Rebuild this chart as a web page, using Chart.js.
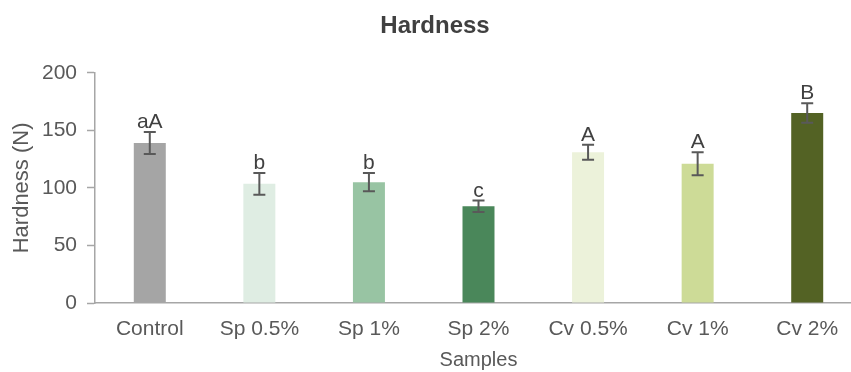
<!DOCTYPE html>
<html>
<head>
<meta charset="utf-8">
<script src="https://cdn.jsdelivr.net/npm/chart.js@4"></script>
<style>
  html, body { margin: 0; padding: 0; background: #fff; overflow: hidden; }
  #wrap { width: 862px; height: 372px; }
</style>
</head>
<body>
<div id="wrap"><canvas id="hardnessChart" width="862" height="372"></canvas></div>
<script>
var categories = ["Control", "Sp 0.5%", "Sp 1%", "Sp 2%", "Cv 0.5%", "Cv 1%", "Cv 2%"];
var hardness = [139, 103.5, 105, 84, 131, 121, 165];
var errors = [9.5, 9.5, 8, 5, 6.5, 10, 8.5];
var letters = ["aA", "b", "b", "c", "A", "A", "B"];
var barColors = ["#a5a5a5", "#dfede3", "#98c4a3", "#4a875a", "#ecf2da", "#cddb97", "#536224"];
var yTicks = [0, 50, 100, 150, 200];

var fontFamily = "'Liberation Sans', Arial, sans-serif";

// barras de error y letras encima
var errorBarsPlugin = {
    id: "errorBars",
    afterDatasetsDraw: function (chart) {
        var ctx = chart.ctx;
        var meta = chart.getDatasetMeta(0);
        var y = chart.scales.y;
        ctx.save();
        meta.data.forEach(function (bar, i) {
            var x = bar.x;
            var yTop = y.getPixelForValue(hardness[i] + errors[i]);
            var yBot = y.getPixelForValue(hardness[i] - errors[i]);
            ctx.strokeStyle = "#595959";
            ctx.lineWidth = 2;
            ctx.beginPath();
            ctx.moveTo(x, yTop);
            ctx.lineTo(x, yBot);
            ctx.moveTo(x - 6, yTop);
            ctx.lineTo(x + 6, yTop);
            ctx.moveTo(x - 6, yBot);
            ctx.lineTo(x + 6, yBot);
            ctx.stroke();

            ctx.fillStyle = "#404040";
            ctx.font = "21px " + fontFamily;
            ctx.textAlign = "center";
            ctx.textBaseline = "alphabetic";
            ctx.fillText(letters[i], x, yTop - 4);
        });
        ctx.restore();
    }
};

var ctx = document.getElementById("hardnessChart").getContext("2d");
var hardnessChart = new Chart(ctx, {
    type: "bar",
    data: {
        labels: categories,
        datasets: [
            {
                label: "Hardness",
                data: hardness,
                backgroundColor: barColors,
                borderWidth: 0,
                categoryPercentage: 1,
                barPercentage: 0.292,
            },
        ],
    },
    options: {
        responsive: false,
        animation: false,
        layout: {
            padding: { left: 8, right: 0, top: 0, bottom: 0 },
        },
        scales: {
            y: {
                min: 0,
                max: 200,
                afterBuildTicks: function (scale) {
                    scale.ticks = yTicks.map(function (v) { return { value: v }; });
                },
                grid: {
                    display: true,
                    drawOnChartArea: false,
                    drawTicks: true,
                    tickLength: 8,
                    tickWidth: 1.5,
                    tickColor: "#a6a6a6",
                },
                border: { display: true, color: "#a6a6a6", width: 1.5 },
                ticks: {
                    color: "#595959",
                    font: { family: fontFamily, size: 21 },
                    padding: 10,
                },
                title: {
                    display: true,
                    text: "Hardness (N)",
                    color: "#595959",
                    font: { family: fontFamily, size: 22 },
                    padding: { top: 1, bottom: 0 },
                },
                afterFit: function (scale) {
                    scale.width = 87;
                },
            },
            x: {
                grid: { display: false, drawTicks: false },
                border: { display: true, color: "#a6a6a6", width: 1.5 },
                ticks: {
                    color: "#595959",
                    font: { family: fontFamily, size: 21 },
                    padding: 14,
                    maxRotation: 0,
                },
                title: {
                    display: true,
                    text: "Samples",
                    color: "#595959",
                    font: { family: fontFamily, size: 20 },
                    padding: { top: 4, bottom: 0 },
                },
                afterFit: function (scale) {
                    scale.height = 69;
                },
            },
        },
        plugins: {
            legend: { display: false },
            tooltip: { enabled: false },
            title: {
                display: true,
                text: "Hardness",
                color: "#404040",
                font: { family: fontFamily, size: 24, weight: "bold" },
                padding: { top: 12, bottom: 32 },
            },
        },
    },
    plugins: [errorBarsPlugin],
});
</script>
</body>
</html>
